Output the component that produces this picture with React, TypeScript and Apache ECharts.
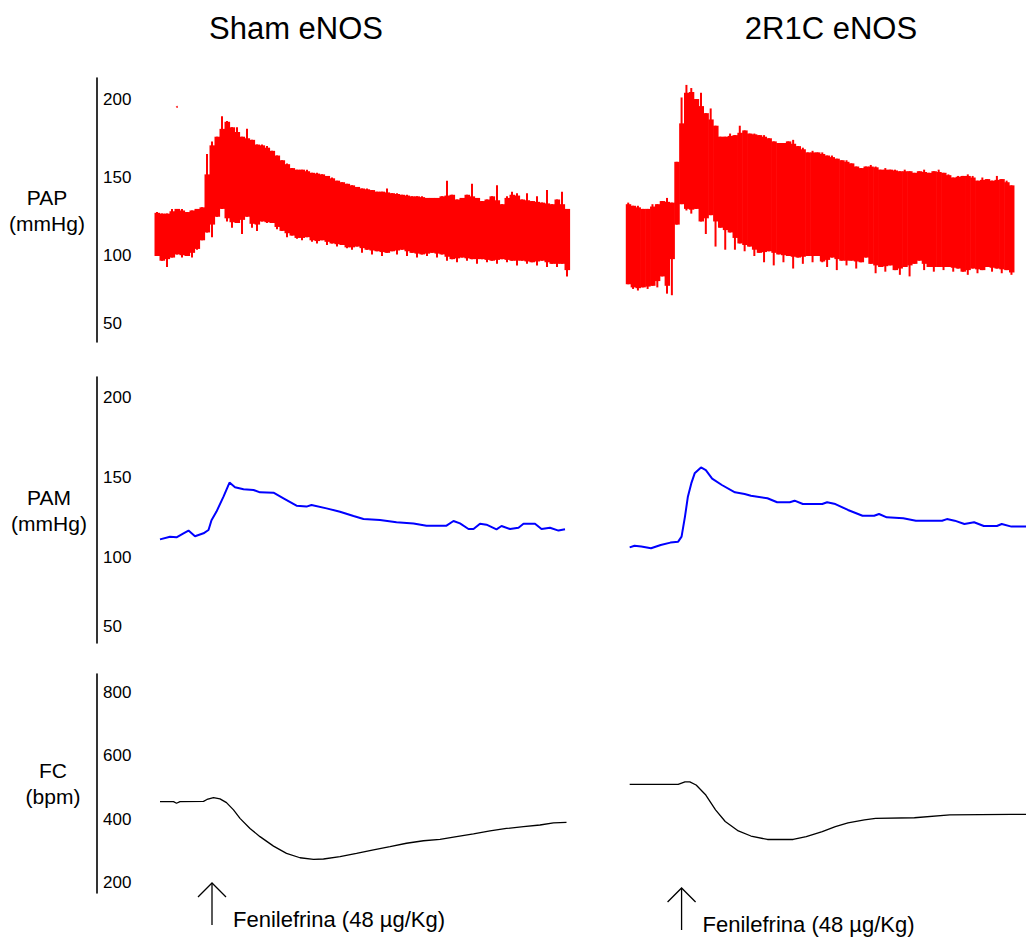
import React, { useEffect, useRef } from "react";
import * as echarts from "echarts";

const panelTitles = ["Sham eNOS", "2R1C eNOS"];
const rowNames = ["PAP\n(mmHg)", "PAM\n(mmHg)", "FC\n(bpm)"];
const pressureTicks = [50, 100, 150, 200];
const fcTicks = [200, 400, 600, 800];
const injectionTime = 23;
const injectionLabel = "Fenilefrina (48 µg/Kg)";

// PAP raw pulsatile recordings: per-sample min / max (1 s samples from t = 12 s)
const sampleStart = 12;
const sampleStep = 1;
const shamPapHigh = [128,127,127,130,130,130,128,129,130,131,165,173,176,189,186,182,182,176,181,174,171,171,170,167,164,161,159,156,155,155,155,153,153,152,151,150,148,147,146,145,144,143,143,142,141,141,143,140,140,139,139,138,138,138,137,137,137,138,148,139,136,137,139,146,137,135,136,138,145,133,138,141,140,136,140,135,138,134,142,133,136,141,130];
const shamPapLow = [100,97,93,99,101,99,100,99,104,110,115,112,125,130,122,118,121,114,125,118,116,122,121,121,117,116,112,113,111,110,112,109,108,110,107,108,106,107,105,104,106,102,104,101,103,100,102,103,101,104,100,102,99,101,100,102,99,101,97,98,96,99,97,98,95,98,96,97,95,98,96,97,94,97,95,96,94,97,93,95,93,95,87];
const r2PapHigh = [134,132,132,130,130,133,133,135,137,134,160,201,209,207,200,204,191,194,183,176,176,178,177,183,180,178,178,177,177,175,173,172,172,173,174,170,169,166,167,166,166,164,164,162,161,161,159,157,156,157,158,157,155,156,155,155,154,155,154,153,154,155,153,154,155,153,152,150,151,151,152,151,148,150,149,148,151,149,148,145];
const r2PapLow = [82,79,78,80,79,81,80,87,76,75,120,133,129,127,130,122,114,126,106,118,104,115,104,108,103,106,100,102,96,103,94,101,96,100,92,99,95,100,96,100,96,93,99,91,97,94,97,92,96,99,95,89,93,90,94,91,88,93,87,95,97,91,93,90,93,91,93,90,92,90,88,92,89,91,93,90,92,89,91,88];
const shamStrayPoint = [[16, 195]];

// PAM (mean arterial pressure) [time s, mmHg]
const shamPam = [[12.6,111],[14.6,112.7],[15.9,112.3],[17.3,114.8],[18.3,116.5],[19.6,113],[21.3,114.8],[22.3,116.9],[22.9,123],[23.9,128.4],[25.3,137.7],[26.5,146.5],[27.6,143.6],[29.3,142.3],[31.3,141.9],[32.6,140.4],[35.3,140.2],[37.3,136.7],[39.9,132.1],[41.9,131.5],[42.9,132.5],[45.9,130.4],[48.6,128.3],[51.3,125.6],[53.3,123.8],[56.6,123.1],[59.9,121.7],[63.3,121],[65.9,119.6],[69.9,119.6],[71.3,122.5],[72.6,121],[74.3,117.5],[75.3,117.5],[76.6,120.8],[77.9,120.2],[79.9,117.3],[80.9,119.4],[82.6,117.5],[84.3,118.3],[85.3,120.8],[87.6,120.8],[88.9,117.5],[90.6,118.3],[92.3,116.5],[93.6,117.3]];
const r2Pam = [[12.3,106],[13.3,107],[14.7,106.5],[16.7,105.5],[18.7,107.5],[20.7,109],[22.3,109.6],[23,112.7],[23.7,125.2],[24.3,137.7],[25,146],[25.7,152.3],[27,156],[28,154.3],[29.3,149],[31.3,145],[34,140.4],[36,139.4],[37.3,138.3],[40.7,136.7],[42.7,134.2],[45.3,134.2],[46.3,135.2],[48,133.1],[52,133.1],[53,134.2],[54.7,133.1],[57.3,129.4],[60.3,125.8],[62.7,125.8],[63.7,126.9],[65.3,124.8],[68.7,124.2],[71.3,122.7],[76.7,122.7],[77.7,123.7],[79.3,122.7],[81.3,120.6],[83.3,121.7],[85.3,119.4],[88,119.4],[89,120.6],[91,119],[94,119]];

// FC (heart rate) [time s, bpm]
const shamFc = [[12.6,455],[15.3,455],[15.9,450],[16.6,455],[21.3,456],[22,462],[23.3,468],[24.6,464],[25.9,452],[27.3,429],[28.6,402],[30.6,370],[32.6,344],[35.3,314],[37.9,291],[40.6,277],[43.3,272],[45.3,273],[48.6,280.5],[51.9,291],[55.3,302],[58.6,312],[61.9,323],[65.3,331],[68.6,335.5],[71.9,344],[75.3,352.5],[78.6,362],[81.9,370],[85.3,375.7],[88.6,381],[91.3,388],[93.9,389]];
const r2Fc = [[12.3,510],[22.3,510],[23.7,518],[24.7,518],[26,508],[28,476],[30,429],[32,392],[34.7,362],[37.3,346],[40.7,335],[46,335],[48.7,344],[52,360],[54.7,376],[57.3,388],[60.7,397],[63,402],[71,404],[78.3,413],[91,415],[94,415]];

const FONT = '"Liberation Sans", Arial, Helvetica, sans-serif';

function bandData(high: number[], low: number[]) {
  return high.map((h, i) => [sampleStart + i * sampleStep, low[i], h]);
}

// Each sample: a full-width core (bounded by the neighbours' mean) plus a thin spike to its own extremes
function makeBandRenderer(high: number[], low: number[]) {
  return (params: any, api: any) => {
    const i = params.dataIndex;
    const t = api.value(0);
    const lo = api.value(1);
    const hi = api.value(2);
    const a = Math.max(0, i - 1);
    const b = Math.min(high.length - 1, i + 1);
    const coreHi = Math.min(hi, (high[a] + high[b]) / 2);
    const coreLo = Math.max(lo, (low[a] + low[b]) / 2);
    const w = api.size([sampleStep, 0])[0];
    const pTop = api.coord([t, hi]);
    const pBot = api.coord([t, lo]);
    const children: any[] = [];
    if (coreHi > coreLo) {
      const cTop = api.coord([t, coreHi]);
      const cBot = api.coord([t, coreLo]);
      children.push({
        type: "rect",
        shape: { x: cTop[0] - w / 2, y: cTop[1], width: w + 0.6, height: cBot[1] - cTop[1] },
        style: { fill: "#ff0000" },
      });
    }
    children.push({
      type: "rect",
      shape: { x: pTop[0] - 1, y: pTop[1], width: 2, height: pBot[1] - pTop[1] },
      style: { fill: "#ff0000" },
    });
    return { type: "group", children };
  };
}

export default function App() {
  const ref = useRef<HTMLDivElement>(null);
  useEffect(() => {
    document.body.style.margin = "0";
    const chart = echarts.init(ref.current!, null, { renderer: "svg" });
    const colLeft = [97, 570];
    const colWidth = 470;
    const rows = [
      { top: 78, height: 264, min: 45.2, max: 213.4, ticks: pressureTicks, gap: 50 },
      { top: 377, height: 266, min: 46.25, max: 212.5, ticks: pressureTicks, gap: 48 },
      { top: 674, height: 219, min: 165.1, max: 860.3, ticks: fcTicks, gap: 44 },
    ];
    const grids: any[] = [];
    const xAxes: any[] = [];
    const yAxes: any[] = [];
    rows.forEach((r, ri) => {
      colLeft.forEach((cl, ci) => {
        const gi = ri * 2 + ci;
        grids.push({ left: cl, top: r.top, width: colWidth, height: r.height, containLabel: false });
        xAxes.push({ type: "value", gridIndex: gi, min: 0, max: 94, show: false });
        yAxes.push({
          type: "value",
          gridIndex: gi,
          min: r.min,
          max: r.max,
          show: ci === 0,
          name: rowNames[ri],
          nameLocation: "middle",
          nameRotate: 0,
          nameGap: r.gap,
          nameTextStyle: { fontSize: 21, lineHeight: 26, align: "center", color: "#000", fontFamily: FONT },
          axisLine: { show: true, lineStyle: { color: "#000", width: 1.6 } },
          axisTick: { show: false },
          splitLine: { show: false },
          axisLabel: {
            inside: true,
            margin: 6,
            customValues: r.ticks,
            color: "#000",
            fontSize: 17,
            fontFamily: FONT,
            formatter: (v: number) => (v === 50 ? "{lo|50}" : String(v)),
            rich: { lo: { fontSize: 17, fontFamily: FONT, color: "#000", padding: [0, 0, 22, 0] } },
          },
        });
      });
    });

    chart.setOption({
      animation: false,
      backgroundColor: "#fff",
      grid: grids,
      xAxis: xAxes,
      yAxis: yAxes,
      series: [
        { type: "custom", xAxisIndex: 0, yAxisIndex: 0, data: bandData(shamPapHigh, shamPapLow), renderItem: makeBandRenderer(shamPapHigh, shamPapLow), encode: { x: 0, y: [1, 2] } },
        { type: "scatter", xAxisIndex: 0, yAxisIndex: 0, data: shamStrayPoint, symbolSize: 2, itemStyle: { color: "#ff0000" } },
        { type: "custom", xAxisIndex: 1, yAxisIndex: 1, data: bandData(r2PapHigh, r2PapLow), renderItem: makeBandRenderer(r2PapHigh, r2PapLow), encode: { x: 0, y: [1, 2] } },
        { type: "line", xAxisIndex: 2, yAxisIndex: 2, data: shamPam, showSymbol: false, lineStyle: { color: "#0000ff", width: 2 } },
        { type: "line", xAxisIndex: 3, yAxisIndex: 3, data: r2Pam, showSymbol: false, lineStyle: { color: "#0000ff", width: 2 } },
        { type: "line", xAxisIndex: 4, yAxisIndex: 4, data: shamFc, showSymbol: false, lineStyle: { color: "#000", width: 1.3 } },
        { type: "line", xAxisIndex: 5, yAxisIndex: 5, data: r2Fc, showSymbol: false, lineStyle: { color: "#000", width: 1.3 } },
      ],
    });

    const arrowX = [
      chart.convertToPixel({ xAxisIndex: 4 }, injectionTime) as number,
      chart.convertToPixel({ xAxisIndex: 5 }, injectionTime) as number,
    ];
    const tipY = [883, 888];
    const titleX = [296, 831];
    const graphics: any[] = [];
    panelTitles.forEach((t, i) => {
      graphics.push({
        type: "text",
        x: titleX[i],
        y: 28,
        style: { text: t, font: `31px ${FONT}`, fill: "#000", textAlign: "center", textVerticalAlign: "middle", align: "center", verticalAlign: "middle" },
      });
    });
    arrowX.forEach((x, i) => {
      const ty = tipY[i];
      graphics.push({ type: "line", shape: { x1: x, y1: ty, x2: x, y2: ty + 42 }, style: { stroke: "#000", lineWidth: 1.3 } });
      graphics.push({ type: "polyline", shape: { points: [[x - 14, ty + 14], [x, ty], [x + 14, ty + 14]] }, style: { stroke: "#000", lineWidth: 1.3, fill: null } });
      graphics.push({
        type: "text",
        x: x + 21,
        y: ty + 36,
        style: { text: injectionLabel, font: `22px ${FONT}`, fill: "#000", textAlign: "left", textVerticalAlign: "middle", align: "left", verticalAlign: "middle" },
      });
    });
    chart.setOption({ graphic: graphics });
    return () => chart.dispose();
  }, []);
  return <div ref={ref} style={{ width: 1026, height: 940 }} />;
}
